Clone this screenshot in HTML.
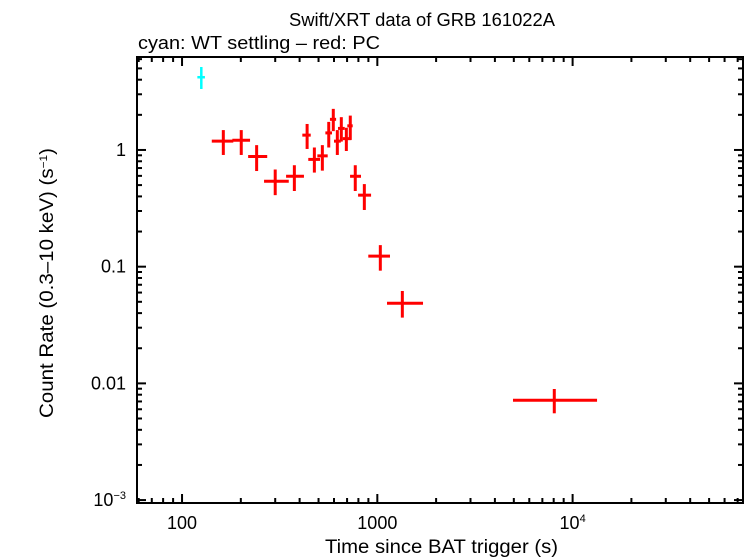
<!DOCTYPE html>
<html><head><meta charset="utf-8"><style>
html,body{margin:0;padding:0;background:#fff;}
svg{display:block;font-family:"Liberation Sans",sans-serif;}
</style></head><body>
<svg id="chart" width="746" height="558" viewBox="0 0 746 558">
<text x="289" y="26" font-size="18" textLength="266" lengthAdjust="spacingAndGlyphs">Swift/XRT data of GRB 161022A</text>
<text x="138" y="49" font-size="18" textLength="242" lengthAdjust="spacingAndGlyphs">cyan: WT settling – red: PC</text>
<text x="325" y="553" font-size="19" textLength="233" lengthAdjust="spacingAndGlyphs">Time since BAT trigger (s)</text>
<text transform="translate(53,418) rotate(-90)" font-size="19" textLength="270" lengthAdjust="spacingAndGlyphs">Count Rate (0.3–10 keV) (s<tspan dy="-6" font-size="11">−1</tspan><tspan dy="6">)</tspan></text>
<g id="ticks"></g><g id="data"></g>
<rect x="137" y="57" width="606" height="446" fill="none" stroke="#000" stroke-width="2"/>
</svg>
<script>
const wtTime=[125.5], wtTimeLo=[119.8], wtTimeHi=[131], wtRate=[4.2], wtRateLo=[3.33], wtRateHi=[5.14];
const pcTime=[162.7,201,241,300,376,437,476,523,564,595,624,654,694,727,771,858,1036,1343,8057];
const pcTimeLo=[142,181,218,263,341,413,443,493,542,572,600,629,665,702,725,797,899,1121,4951];
const pcTimeHi=[183,223,273,352,421,456,509,557,586,615,650,681,736,748,825,929,1161,1714,13340];
const pcRate=[1.19,1.21,0.88,0.54,0.595,1.34,0.83,0.89,1.40,1.83,1.19,1.53,1.25,1.61,0.595,0.41,0.123,0.0486,0.00716];
const pcRateLo=[0.906,0.906,0.66,0.41,0.445,1.02,0.64,0.665,1.05,1.45,0.906,1.18,0.98,1.22,0.445,0.306,0.0924,0.0366,0.00554];
const pcRateHi=[1.48,1.48,1.10,0.68,0.74,1.67,1.05,1.10,1.74,2.25,1.48,1.91,1.55,1.97,0.74,0.51,0.153,0.0619,0.00895];
const xTickLabels=["100","1000","10^4"], xTickValues=[100,1000,10000];
const yTickLabels=["10^-3","0.01","0.1","1"], yTickValues=[0.001,0.01,0.1,1];
const X0=137,X1=743,Y0=503,Y1=57;
const xmin=Math.log10(58.8),xmax=Math.log10(74560),ymin=Math.log10(0.000944),ymax=Math.log10(6.26);
function sx(v){return X0+(Math.log10(v)-xmin)/(xmax-xmin)*(X1-X0);}
function sy(v){return Y0-(Math.log10(v)-ymin)/(ymax-ymin)*(Y0-Y1);}
const NS="http://www.w3.org/2000/svg";
function mk(tag,attrs,parent){const e=document.createElementNS(NS,tag);for(const k in attrs)e.setAttribute(k,attrs[k]);parent.appendChild(e);return e;}
const tg=document.getElementById('ticks');
function lbl(parent,x,y,s,anchor){const t=mk('text',{x:x,y:y,'font-size':18,'text-anchor':anchor},parent);
 if(s.indexOf('^')>=0){const p=s.split('^');t.textContent=p[0];const ts=mk('tspan',{dy:-7,'font-size':11},t);ts.textContent=p[1].replace('-','−');}else t.textContent=s;return t;}
for(let d=1;d<=5;d++){for(let m=1;m<10;m++){const v=m*Math.pow(10,d);if(v<58.8||v>74560)continue;const x=sx(v);const L=m===1?9:5;
 const a=mk('line',{x1:x,x2:x,y1:Y0,y2:Y0-L,stroke:'#000','stroke-width':2},tg);
 const b=mk('line',{x1:x,x2:x,y1:Y1,y2:Y1+L,stroke:'#000','stroke-width':2},tg);}}
xTickValues.forEach((v,i)=>{const t=lbl(tg,sx(v),529,xTickLabels[i],'middle');});
for(let d=-4;d<=1;d++){for(let m=1;m<10;m++){const v=m*Math.pow(10,d);if(v<0.000944||v>6.26)continue;const y=sy(v);const L=m===1?9:5;
 const a=mk('line',{x1:X0,x2:X0+L,y1:y,y2:y,stroke:'#000','stroke-width':2},tg);
 const b=mk('line',{x1:X1,x2:X1-L,y1:y,y2:y,stroke:'#000','stroke-width':2},tg);}}
yTickValues.forEach((v,i)=>{const t=lbl(tg,126,sy(v)+6,yTickLabels[i],'end');});
const dg=document.getElementById('data');
function pts(T,TL,TH,R,RL,RH,col,name,w){for(let i=0;i<T.length;i++){const g=mk('g',{},dg);
 
 
 mk('line',{x1:sx(TL[i]),x2:sx(TH[i]),y1:sy(R[i]),y2:sy(R[i]),stroke:col,'stroke-width':w},g);
 mk('line',{x1:sx(T[i]),x2:sx(T[i]),y1:sy(RL[i]),y2:sy(RH[i]),stroke:col,'stroke-width':w},g);}}
pts(wtTime,wtTimeLo,wtTimeHi,wtRate,wtRateLo,wtRateHi,'#00ffff','wt-point',2.5);
pts(pcTime,pcTimeLo,pcTimeHi,pcRate,pcRateLo,pcRateHi,'#ff0000','pc-point',3);
</script>
</body></html>
